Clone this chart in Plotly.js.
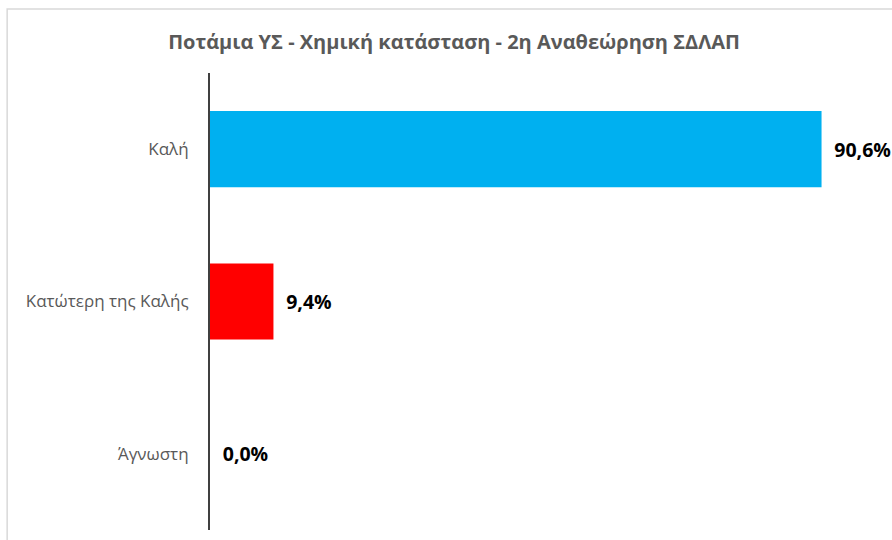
<!DOCTYPE html>
<html>
<head>
<meta charset="utf-8">
<script src="https://cdn.plot.ly/plotly-3.0.1.min.js"></script>
<style>html,body{margin:0;padding:0;background:#fff;}#chart{width:892px;height:540px;}</style>
</head>
<body>
<div id="chart"></div>
<script>
const categories = ["Καλή", "Κατώτερη της Καλής", "Άγνωστη"];
const values = [90.6, 9.4, 0.0];
const colors = ["#00B0F0", "#FF0000", "#7F7F7F"];
const titleText = "Ποτάμια ΥΣ - Χημική κατάσταση - 2η Αναθεώρηση ΣΔΛΑΠ";

const trace = {
  type: "bar",
  orientation: "h",
  x: values,
  y: categories,
  marker: {color: colors},
  width: 0.5,
  texttemplate: "\u2002%{x:.1f}%",
  textposition: "outside",
  cliponaxis: false,
  textfont: {family: "Open Sans, sans-serif", size: 19.5, color: "#000000", weight: 700},
  hoverinfo: "skip"
};

const layout = {
  width: 892, height: 540,
  margin: {l: 210, r: 6.5, t: 73, b: 10},
  paper_bgcolor: "#ffffff", plot_bgcolor: "#ffffff",
  separators: ",.",
  showlegend: false,
  title: {text: titleText, x: 0.509, xanchor: "center", y: 0.922, yanchor: "middle",
          font: {family: "Open Sans, sans-serif", size: 20, color: "#595959", weight: 700}},
  xaxis: {range: [0, 100], visible: false, fixedrange: true},
  yaxis: {autorange: "reversed", showline: true, linecolor: "#404040", linewidth: 2,
          ticks: "", ticklabelstandoff: 16, showgrid: false, zeroline: false,
          tickfont: {family: "Open Sans, sans-serif", size: 17, color: "#595959"}},
  shapes: [{type: "rect", xref: "paper", yref: "paper", x0: -0.3005, x1: 1.2, y0: -0.2, y1: 1.14,
            line: {color: "#D9D9D9", width: 1.5}, fillcolor: "rgba(0,0,0,0)", layer: "below"}]
};

Plotly.newPlot("chart", [trace], layout, {staticPlot: true});
</script>
</body>
</html>
